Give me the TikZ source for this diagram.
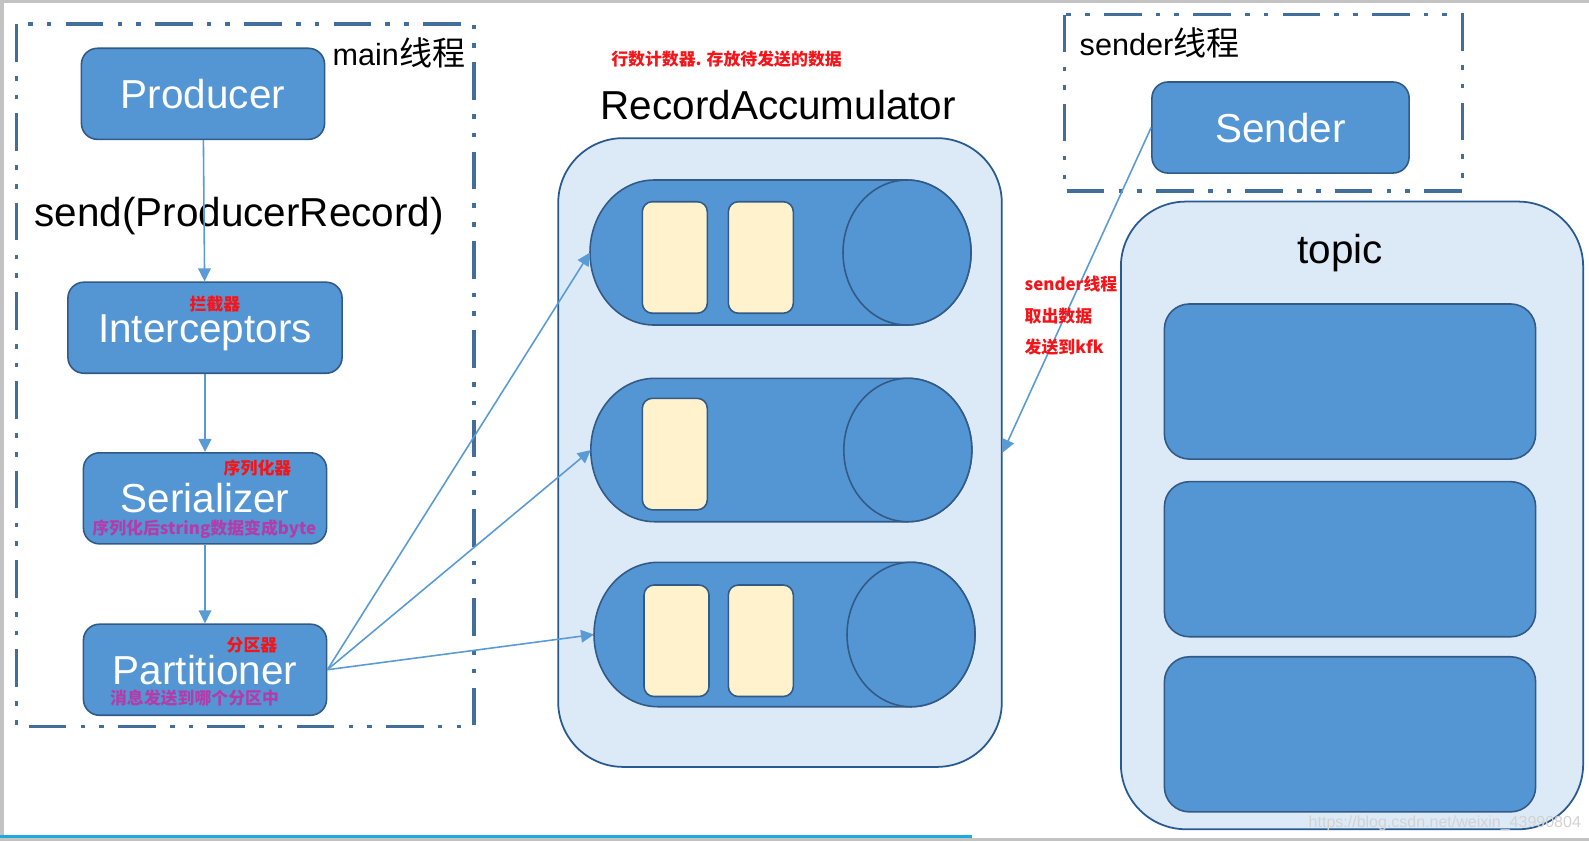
\documentclass[tikz,border=0pt]{standalone}
\usepackage{fontspec}
\setmainfont{Liberation Sans}
\newfontfamily\cjkfont{Noto Sans CJK SC}
\usetikzlibrary{positioning, arrows.meta}

\definecolor{boxblue}{RGB}{84,150,211}
\definecolor{boxedge}{RGB}{50,90,135}
\definecolor{trayblue}{RGB}{220,233,246}
\definecolor{trayedge}{RGB}{40,90,145}
\definecolor{slotyellow}{RGB}{255,242,204}
\definecolor{frameblue}{RGB}{65,110,155}
\definecolor{flowblue}{RGB}{91,155,213}
\definecolor{notered}{RGB}{245,20,25}
\definecolor{hintpurple}{RGB}{180,60,170}
\definecolor{screengrey}{RGB}{195,195,195}
\definecolor{barcyan}{RGB}{30,170,225}

\tikzset{
 blockbox/.style={draw=boxedge, fill=boxblue, line width=0.45pt, rounded corners=0.16cm,
  minimum width=2.43cm, minimum height=0.91cm, inner sep=0pt, text=white,
  text height=0.29cm, text depth=0pt, font=\fontsize{11.5}{13}\selectfont},
 tray/.style={draw=trayedge, fill=trayblue, line width=0.5pt, rounded corners=0.65cm, inner sep=0pt},
 partbox/.style={draw=boxedge, fill=boxblue, line width=0.45pt, rounded corners=0.25cm,
  minimum width=3.71cm, minimum height=1.55cm, inner sep=0pt},
 queue/.style={draw=boxedge, fill=boxblue, line width=0.45pt},
 slot/.style={draw=boxedge, fill=slotyellow, line width=0.45pt, rounded corners=0.1cm},
 threadframe/.style={draw=frameblue, line width=1.1pt,
  dash pattern=on 10.7pt off 4.1pt on 1.3pt off 4pt on 1.3pt off 4pt},
 flow/.style={draw=flowblue, line width=0.45pt, -{Triangle[length=3.7pt, width=3.6pt]}},
 title/.style={inner sep=0pt, font=\fontsize{11.5}{13}\selectfont},
 thread/.style={inner sep=0pt, font=\fontsize{8.7}{10}\selectfont},
 note/.style={inner sep=0pt, text=notered, font=\cjkfont\bfseries\fontsize{4.8}{5.5}\selectfont},
 hint/.style={inner sep=0pt, text=hintpurple, font=\cjkfont\bfseries\fontsize{4.8}{5.5}\selectfont}
}

\begin{document}
\begin{tikzpicture}[x=0.01cm, y=0.01cm]
 \fill[white] (0,0) rectangle (1589,-841);
 \useasboundingbox (0,0) rectangle (1589,-841);
 % screen edges
 \fill[screengrey] (0,0) rectangle (1589,-3);
 \fill[screengrey] (0,0) rectangle (4,-841);
 \fill[screengrey] (0,-838.3) rectangle (1589,-841);
 \fill[barcyan] (0,-835) rectangle (972,-838.3);

 % thread frames
 \draw[threadframe] (16.5,-24) rectangle (474,-726.5);
 \draw[threadframe] (1064.5,-14.5) rectangle (1462.5,-191);
 \node[thread, anchor=base west] at (332,-65) {main{\cjkfont\fontsize{9.4}{10}\selectfont 线程}};
 \node[thread, anchor=base west] at (1079,-55) {sender{\cjkfont\fontsize{9.4}{10}\selectfont 线程}};

 % accumulator and topic
 \node[tray, minimum width=4.434cm, minimum height=6.284cm] (accum) at (780,-452.5) {};
 \node[tray, minimum width=4.62cm, minimum height=6.273cm] (topic) at (1352,-515.4) {};
 \node[title, anchor=base west] at (600,-119.5) {RecordAccumulator};
 \node[title, anchor=base west] at (1297,-263) {topic};
 \foreach \i/\y in {1/381.5, 2/559.2, 3/734.3}
  \node[partbox] (part\i) at (1350,-\y) {};

 % batches
 \foreach \n/\xl/\yc/\ry in {1/590/252.5/72.5, 2/590.8/450/71.7, 3/594/634.5/72.2} {
  \draw[queue] (\xl+64,-\yc+\ry) -- (\xl+317,-\yc+\ry) arc (90:-90:64 and \ry)
   -- (\xl+64,-\yc-\ry) arc (270:90:64 and \ry) -- cycle;
  \draw[queue] (\xl+317,-\yc) ellipse (64 and \ry);
  \coordinate (q\n) at (\xl,-\yc);
 }
 \foreach \x/\y in {642.3/201.7, 728.3/201.7, 642.3/398.3, 644/585, 728.3/585}
  \draw[slot] (\x,-\y) rectangle ++(65,-111.5);

 % main thread chain
 \node[blockbox] (producer) at (203,-93.8) {Producer};
 \node[blockbox, minimum width=2.74cm] (interceptors) at (205,-327.7) {Interceptors};
 \node[blockbox] (serializer) at (205,-498.3) {Serializer};
 \node[blockbox] (partitioner) at (205,-669.7) {Partitioner};
 \node[blockbox, minimum width=2.57cm] (sender) at (1280.5,-127.5) {Sender};
 \node[title, anchor=base west] at (34,-226.7) {send(ProducerRecord)};

 \draw[flow] (producer) -- (interceptors);
 \draw[flow] (interceptors) -- (serializer);
 \draw[flow] (serializer) -- (partitioner);
 \foreach \n in {1,2,3}
  \draw[flow] (partitioner.east) -- (q\n);
 \draw[flow] (sender.west) -- (accum.east);

 % notes
 \node[note] at (215,-304.5) {拦截器};
 \node[note] at (257.5,-468.3) {序列化器};
 \node[hint] at (204.3,-529.2) {序列化后string数据变成byte};
 \node[note] at (252,-645.5) {分区器};
 \node[hint] at (194.5,-698.3) {消息发送到哪个分区中};
 \node[note] at (726.5,-59.5) {行数计数器. 存放待发送的数据};
 \foreach \y/\txt in {283.7/sender线程, 315.7/取出数据, 346.7/发送到kfk}
  \node[note, anchor=west] at (1024,-\y) {\txt};

 \node[inner sep=0pt, anchor=base west, text=gray!35, font=\fontsize{4.55}{5}\selectfont]
  at (1308,-827.3) {https://blog.csdn.net/weixin\_43990804};
\end{tikzpicture}
\end{document}
